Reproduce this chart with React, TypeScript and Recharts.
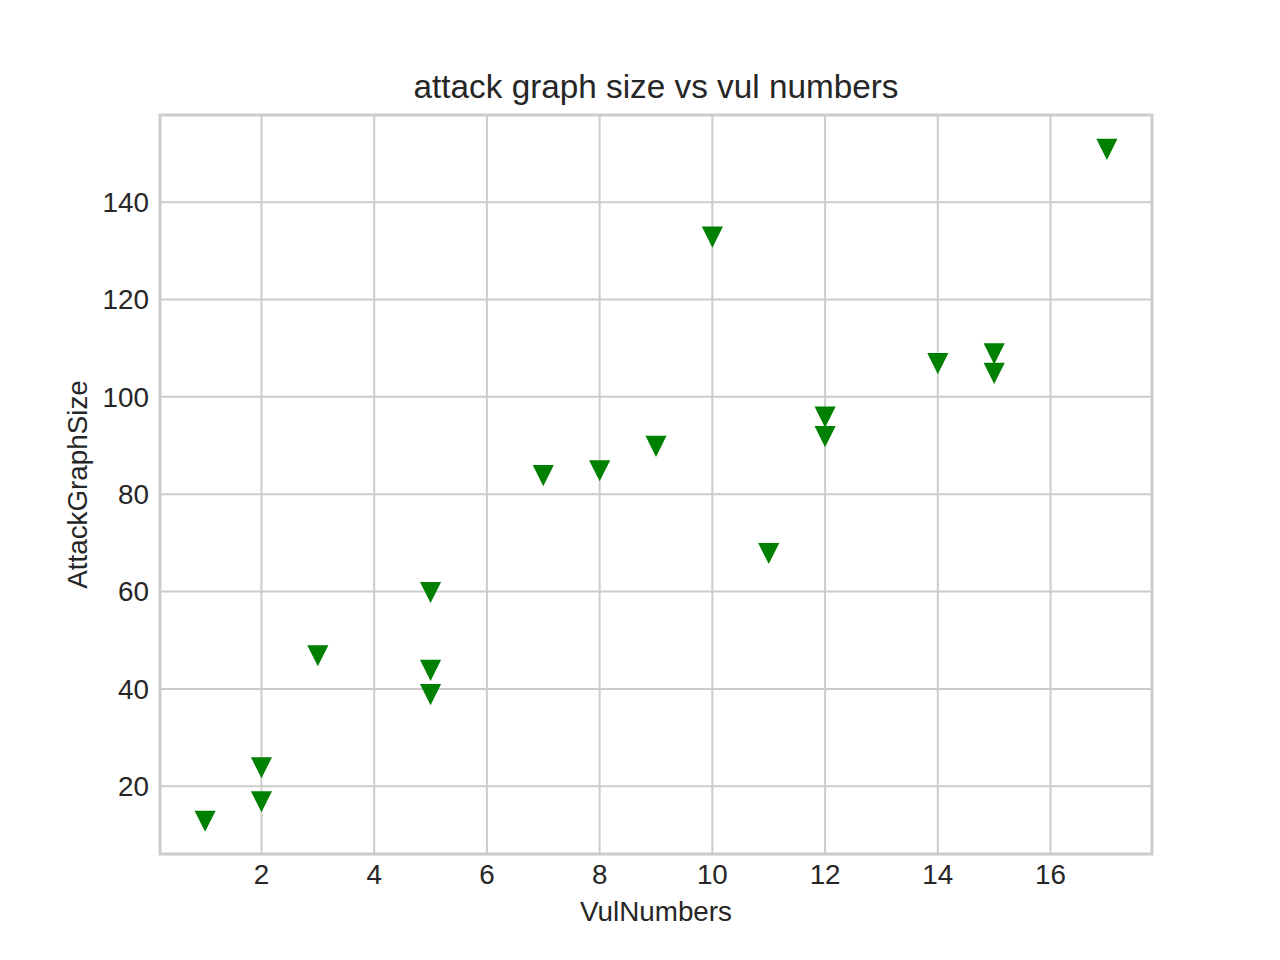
import {
  CartesianGrid,
  Customized,
  ReferenceArea,
  Scatter,
  ScatterChart,
  XAxis,
  YAxis
} from "recharts";

const vulNumbers = [1, 2, 2, 3, 5, 5, 5, 7, 8, 9, 10, 11, 12, 12, 14, 15, 15, 17];
const graphSizes = [13, 24, 17, 47, 60, 44, 39, 84, 85, 90, 133, 68, 96, 92, 107, 109, 105, 151];
const xTicks = [2, 4, 6, 8, 10, 12, 14, 16];
const yTicks = [20, 40, 60, 80, 100, 120, 140];

const title = "attack graph size vs vul numbers";
const xLabel = "VulNumbers";
const yLabel = "AttackGraphSize";

const FONT = "'Liberation Sans', Arial, sans-serif";
const TEXT = "#262626";
const GRID = "#cccccc";
const GREEN = "#008000";

// matplotlib-style 5% auto margins
function padded(vals: number[]): [number, number] {
  const lo = Math.min(...vals);
  const hi = Math.max(...vals);
  const pad = (hi - lo) * 0.05;
  return [lo - pad, hi + pad];
}

const xDomain = padded(vulNumbers);
const yDomain = padded(graphSizes);

const data = vulNumbers.map((x, i) => ({ x, y: graphSizes[i] }));

function TriangleDown(props: any) {
  const { cx, cy } = props;
  if (cx == null || cy == null) return null;
  const s = 8.33;
  return (
    <path
      d={`M${cx - s},${cy - s}L${cx + s},${cy - s}L${cx},${cy + s}Z`}
      fill={GREEN}
      stroke={GREEN}
      strokeWidth={2.78}
      strokeLinejoin="miter"
    />
  );
}

const tickStyle = { fontFamily: FONT, fontSize: 27.8, fill: TEXT };

export default function App() {
  return (
    <div style={{ position: "absolute", left: 0, top: 0, width: 1280, height: 960, background: "#fff" }}>
      <ScatterChart
        width={1280}
        height={960}
        margin={{ top: 115, right: 128, bottom: 46, left: 60 }}
      >
        <CartesianGrid stroke={GRID} strokeWidth={2} />
        <XAxis
          type="number"
          dataKey="x"
          domain={xDomain}
          ticks={xTicks}
          height={60}
          axisLine={false}
          tickLine={false}
          tickSize={0}
          tickMargin={10}
          tick={tickStyle}
        />
        <YAxis
          type="number"
          dataKey="y"
          domain={yDomain}
          ticks={yTicks}
          width={100}
          axisLine={false}
          tickLine={false}
          tickSize={0}
          tickMargin={11}
          tick={tickStyle}
        />
        <ReferenceArea
          x1={xDomain[0]}
          x2={xDomain[1]}
          y1={yDomain[0]}
          y2={yDomain[1]}
          fill="none"
          fillOpacity={0}
          stroke={GRID}
          strokeWidth={3}
          strokeOpacity={1}
        />
        <Scatter data={data} shape={TriangleDown} isAnimationActive={false} />
        <Customized
          component={
            <g fontFamily={FONT} fill={TEXT}>
              <text x={656} y={98} fontSize={33.3} textAnchor="middle">
                {title}
              </text>
              <text x={656} y={921} fontSize={27.8} textAnchor="middle">
                {xLabel}
              </text>
              <text
                x={0}
                y={0}
                fontSize={27.8}
                textAnchor="middle"
                transform="translate(86.5,484.5) rotate(-90)"
              >
                {yLabel}
              </text>
            </g>
          }
        />
      </ScatterChart>
    </div>
  );
}
